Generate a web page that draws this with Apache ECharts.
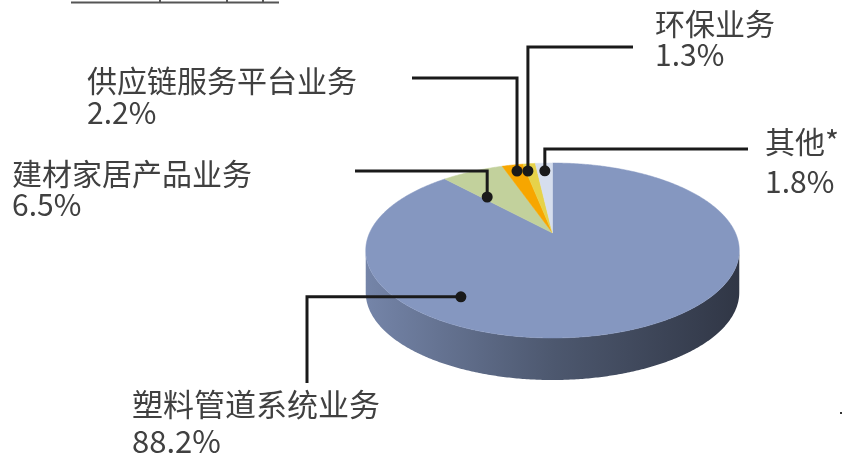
<!DOCTYPE html>
<html><head><meta charset="utf-8">
<script src="https://cdn.jsdelivr.net/npm/echarts@6/dist/echarts.min.js"></script>
<style>html,body{margin:0;padding:0;background:#fff}#c{width:843px;height:455px}</style>
</head><body><div id="c"></div>
<script>
// ---- data ----
const categories = ['塑料管道系统业务', '建材家居产品业务', '供应链服务平台业务', '环保业务', '其他*'];
const values = [88.2, 6.5, 2.2, 1.3, 1.8];

// ---- styles / layout ----
const colors = ['#8597c0', '#c2d19c', '#f7a600', '#e6d24a', '#d6deee'];
const PIE = { cx: 552.5, cy: 233, R: 183, Ry: 84, k: 0.2, h: 42 };
// dot anchor: [fraction of slice angle, radius fraction]
const anchors = [[0.672, 0.79], [0.115, 0.61], [0.55, 0.895], [0.18, 0.88], [0.5, 0.87]];
// leader waypoints: [x|null, y|null], null keeps previous coordinate
const leaders = [
  [[307, null], [null, 383]],
  [[null, 171], [355, null]],
  [[null, 78], [412, null]],
  [[null, 47], [633, null]],
  [[null, 149], [748, null]]
];
// label positions: [x, name center y, percent center y, font size]
const labelPos = [[132, 404, 441, 31], [12, 174, 205, 30], [87, 81, 113, 30], [655, 24, 55, 30], [765, 142, 182, 30]];

const total = values.reduce((a, b) => a + b, 0);
const starts = [], ends = [];
let acc = 0;
values.forEach(v => { starts.push(acc / total * Math.PI * 2); acc += v; ends.push(acc / total * Math.PI * 2); });

function proj(theta, r) {
  const u = r * Math.sin(theta), v = r * Math.cos(theta);
  const w = 1 + PIE.k * v;
  return [PIE.cx + PIE.R * u / w, PIE.cy - PIE.Ry * v / w];
}
function arc(a0, a1, r, dy) {
  const pts = [];
  const n = Math.max(2, Math.ceil(Math.abs(a1 - a0) / (Math.PI / 360)));
  for (let j = 0; j <= n; j++) {
    const p = proj(a0 + (a1 - a0) * j / n, r);
    pts.push([p[0], p[1] + (dy || 0)]);
  }
  return pts;
}
function shade(hex, f) {
  const n = parseInt(hex.slice(1), 16);
  const r = Math.round(((n >> 16) & 255) * f), g = Math.round(((n >> 8) & 255) * f), b = Math.round((n & 255) * f);
  return 'rgb(' + r + ',' + g + ',' + b + ')';
}
const thR = Math.acos(-PIE.k), thL = Math.PI * 2 - Math.acos(-PIE.k);
const FONT = '"Noto Sans CJK SC", "Noto Sans", sans-serif';
const TEXT = '#404040';

function renderItem(params, api) {
  const i = params.dataIndex;
  const s = starts[i], e = ends[i];
  const children = [];
  // side wall
  const lo = Math.max(s, thR), hi = Math.min(e, thL);
  if (hi > lo) {
    const top = arc(lo, hi, 1, 0);
    const bot = arc(hi, lo, 1, PIE.h);
    const xl = PIE.cx - PIE.R * 1.03, xr = PIE.cx + PIE.R * 1.03;
    children.push({
      type: 'polygon', shape: { points: top.concat(bot) },
      style: { fill: new echarts.graphic.LinearGradient(xl, 0, xr, 0, [
        { offset: 0, color: shade(colors[i], 0.88) },
        { offset: 0.5, color: shade(colors[i], 0.58) },
        { offset: 1, color: shade(colors[i], 0.36) }
      ], true), stroke: null }
    });
  }
  // top face
  const pts = [proj(0, 0)].concat(arc(s, e, 1, 0));
  children.push({ type: 'polygon', shape: { points: pts }, style: { fill: colors[i], stroke: colors[i], lineWidth: 0.5 } });
  // leader
  const an = anchors[i];
  const d = proj(s + (e - s) * an[0], an[1]);
  const line = [d.slice()];
  let cur = d.slice();
  leaders[i].forEach(w => { cur = [w[0] == null ? cur[0] : w[0], w[1] == null ? cur[1] : w[1]]; line.push(cur.slice()); });
  children.push({ type: 'polyline', shape: { points: line }, style: { stroke: '#1a1a1a', lineWidth: 3, fill: null }, z2: 10 });
  children.push({ type: 'circle', shape: { cx: d[0], cy: d[1], r: 5.5 }, style: { fill: '#1a1a1a' }, z2: 11 });
  // labels
  const lp = labelPos[i];
  children.push({ type: 'text', style: { text: categories[i], x: lp[0], y: lp[1], fill: TEXT, fontSize: lp[3], fontFamily: FONT, align: 'left', verticalAlign: 'middle' }, z2: 12 });
  children.push({ type: 'text', style: { text: api.value(0).toFixed(1) + '%', x: lp[0], y: lp[2], fill: TEXT, fontSize: lp[3], fontFamily: FONT, align: 'left', verticalAlign: 'middle' }, z2: 12 });
  return { type: 'group', children: children };
}

const chart = echarts.init(document.getElementById('c'), null, { renderer: 'canvas' });
chart.setOption({
  backgroundColor: '#fff',
  animation: false,
  graphic: [
    { type: 'line', shape: { x1: 71, y1: 2.5, x2: 279, y2: 2.5 }, style: { stroke: '#555', lineWidth: 2 } },
    { type: 'line', shape: { x1: 160, y1: 0, x2: 160, y2: 3 }, style: { stroke: '#555', lineWidth: 2 } },
    { type: 'line', shape: { x1: 227, y1: 0, x2: 227, y2: 3 }, style: { stroke: '#555', lineWidth: 2 } },
    { type: 'line', shape: { x1: 263, y1: 0, x2: 263, y2: 3 }, style: { stroke: '#555', lineWidth: 2 } },
    { type: 'rect', shape: { x: 840, y: 412, width: 2, height: 2 }, style: { fill: '#333' } }
  ],
  series: [{
    type: 'custom',
    coordinateSystem: 'none',
    silent: true,
    data: values.map((v, i) => ({ name: categories[i], value: [v] })),
    renderItem: renderItem
  }]
});
</script>
</body></html>
